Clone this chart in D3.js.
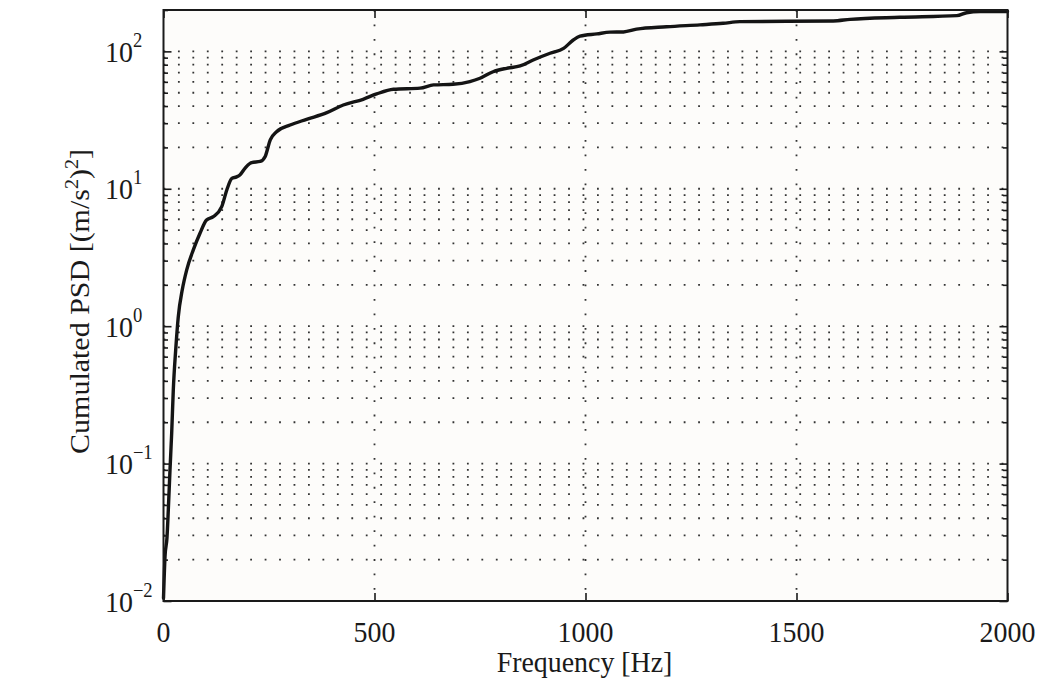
<!DOCTYPE html>
<html>
<head>
<meta charset="utf-8">
<script src="https://cdn.jsdelivr.net/npm/d3@7"></script>
<style>
  html, body { margin: 0; padding: 0; background: #ffffff; }
  svg { display: block; }
  text { font-family: "Liberation Serif", "Times New Roman", serif; fill: #1a1a1a; }
</style>
</head>
<body>
<svg id="chart" width="1054" height="692"></svg>
<script>
// ---- data ----
const freq = [0, 3.6, 8.3, 11.4, 15.4, 19.4, 23.2, 28.9, 35, 44.5, 55, 70.6, 86.5, 102, 118, 138, 150, 162, 173, 181, 193, 205, 209, 229, 241, 253, 268, 300, 339, 387, 426, 473, 505, 545, 608, 640, 686, 726, 750, 781, 813, 845, 876, 916, 948, 971, 987, 1027, 1058, 1090, 1121, 1192, 1271, 1326, 1366, 1587, 1627, 1745, 1880, 1903, 1935, 2000];
const psd = [0.0105, 0.021, 0.029, 0.046, 0.09, 0.167, 0.343, 0.672, 1.17, 1.84, 2.57, 3.59, 4.75, 5.93, 6.27, 7.41, 9.8, 11.9, 12.2, 12.6, 14.1, 15.3, 15.5, 15.8, 17.2, 22.7, 26.0, 29.1, 32.0, 35.8, 40.7, 44.8, 49.0, 53.0, 54.0, 57.0, 57.6, 60.2, 63.7, 71.1, 75.3, 78.3, 86.6, 96.9, 105, 121, 129, 134, 138, 138.5, 145, 151, 156, 160, 164.5, 166.5, 171, 177, 182, 191, 194.6, 195];
const xTicks = [0, 500, 1000, 1500, 2000];
const yDecadeExp = [-2, -1, 0, 1, 2];
const xLabel = "Frequency [Hz]";
const yLabelParts = ["Cumulated PSD [(m/s", "2", ")", "2", "]"];

// ---- layout ----
const L = 163.5, R = 1007.5, T = 10, B = 601;
const svg = d3.select("#chart");
const x = d3.scaleLinear().domain([0, 2000]).range([L, R]);
const y = d3.scaleLog().domain([0.01, 200]).range([B, T]);

// plot background
svg.append("rect").attr("x", L).attr("y", T).attr("width", R - L).attr("height", B - T)
  .attr("fill", "#fdfcfa");

// minor/major y values for grid
const yAll = [];
for (let e = -2; e <= 2; e++) {
  for (let m = 1; m <= 9; m++) {
    const v = m * Math.pow(10, e);
    if (v >= 0.01 - 1e-12 && v <= 200 + 1e-9) yAll.push(v);
  }
}

// dotted grid
const grid = svg.append("g");
grid.selectAll("line.hg").data(yAll).join("line")
  .attr("x1", L).attr("x2", R)
  .attr("y1", d => y(d)).attr("y2", d => y(d))
  .attr("stroke", "#333").attr("stroke-width", 1.8)
  .attr("stroke-dasharray", "1.8 12.65");
grid.selectAll("line.vg").data(xTicks.slice(1, -1)).join("line")
  .attr("x1", d => x(d)).attr("x2", d => x(d))
  .attr("y1", T).attr("y2", B)
  .attr("stroke", "#333").attr("stroke-width", 1.8)
  .attr("stroke-dasharray", "1.8 12.65");

// curve
const pts = freq.map((f, i) => [f, psd[i]]);
const line = d3.line().x(d => x(d[0])).y(d => y(d[1])).curve(d3.curveMonotoneX);
svg.append("path").datum(pts).attr("d", line)
  .attr("fill", "none").attr("stroke", "#141414").attr("stroke-width", 3.4)
  .attr("stroke-linejoin", "round").attr("stroke-linecap", "round");

// axes ticks (inward), using d3 axes
const yMajor = yDecadeExp.map(e => Math.pow(10, e));
const yMinor = yAll.filter(v => !yMajor.some(m => Math.abs(m - v) / m < 1e-9));
function styleAxis(g) {
  g.select(".domain").remove();
  g.selectAll(".tick line").attr("stroke", "#1a1a1a").attr("stroke-width", 1.6);
  g.selectAll(".tick text").remove();
}
svg.append("g").attr("transform", `translate(0,${B})`)
  .call(d3.axisBottom(x).tickValues(xTicks).tickSize(-8).tickFormat("")).call(styleAxis);
svg.append("g").attr("transform", `translate(0,${T})`)
  .call(d3.axisTop(x).tickValues(xTicks).tickSize(-8).tickFormat("")).call(styleAxis);
svg.append("g").attr("transform", `translate(${L},0)`)
  .call(d3.axisLeft(y).tickValues(yMajor).tickSize(-8).tickFormat("")).call(styleAxis);
svg.append("g").attr("transform", `translate(${L},0)`)
  .call(d3.axisLeft(y).tickValues(yMinor).tickSize(-4.5).tickFormat("")).call(styleAxis);
svg.append("g").attr("transform", `translate(${R},0)`)
  .call(d3.axisRight(y).tickValues(yMajor).tickSize(-8).tickFormat("")).call(styleAxis);
svg.append("g").attr("transform", `translate(${R},0)`)
  .call(d3.axisRight(y).tickValues(yMinor).tickSize(-4.5).tickFormat("")).call(styleAxis);

// frame
svg.append("rect").attr("x", L).attr("y", T).attr("width", R - L).attr("height", B - T)
  .attr("fill", "none").attr("stroke", "#1a1a1a").attr("stroke-width", 2);

// text sizes
const SX = 0.93; // horizontal condensation of the glyphs
const FS = 30, FSUP = 20;

// x tick labels
svg.selectAll("g.xl").data(xTicks).join("g")
  .attr("transform", d => `translate(${x(d)},642) scale(${SX},1)`)
  .append("text").attr("text-anchor", "middle").attr("font-size", FS).text(d => d);

// y tick labels: 10^e
const yl = svg.selectAll("g.yl").data(yDecadeExp).join("g")
  .attr("transform", e => `translate(105,${y(Math.pow(10, e)) + 10.5}) scale(${SX},1)`)
  .append("text").attr("font-size", FS);
yl.append("tspan").text("10");
yl.append("tspan").attr("dy", -15).attr("font-size", FSUP)
  .text(e => (e < 0 ? "\u2212" : "") + Math.abs(e));

// x axis label
svg.append("g").attr("transform", `translate(${(L + R) / 2 - 1},672) scale(${SX},1)`)
  .append("text").attr("text-anchor", "middle").attr("font-size", FS).text(xLabel);

// y axis label
const yt = svg.append("g").attr("transform", `translate(89,${(T + B) / 2 - 4}) scale(${SX},1) rotate(-90)`)
  .append("text").attr("text-anchor", "middle").attr("font-size", FS);
yLabelParts.forEach((p, i) => {
  const isSup = i === 1 || i === 3;
  yt.append("tspan").text(p)
    .attr("font-size", isSup ? FSUP : FS)
    .attr("dy", i === 0 ? 0 : (isSup ? -12 : 12));
});
</script>
</body>
</html>
